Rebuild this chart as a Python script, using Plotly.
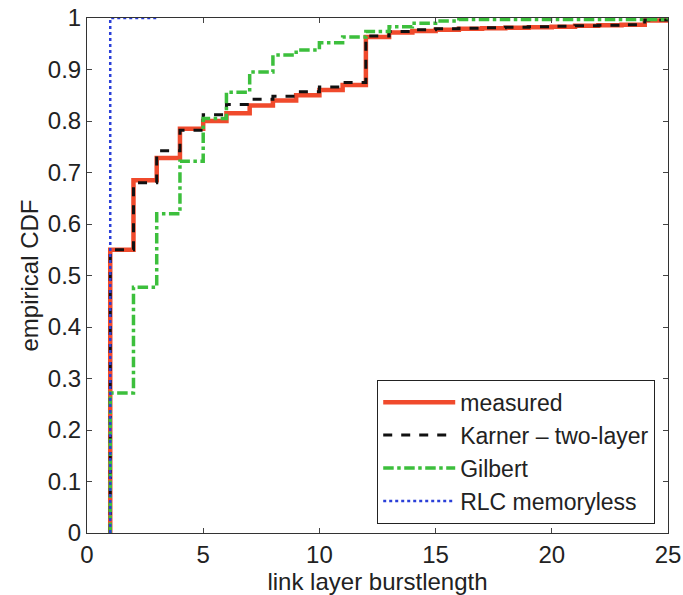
import plotly.graph_objects as go

# Burst lengths (x) and empirical CDF values
measured_x = [1, 1, 2, 3, 4, 5, 6, 7, 8, 9, 10, 11, 12, 13, 14, 15, 16, 17, 18, 19, 20, 21, 22, 23, 24, 25]
measured_y = [0, 0.55, 0.685, 0.728, 0.785, 0.800, 0.815, 0.830, 0.840, 0.850, 0.860, 0.870, 0.963, 0.972, 0.975, 0.977, 0.979, 0.980, 0.981, 0.982, 0.983, 0.985, 0.986, 0.987, 0.995, 1.0]

karner_x = [1, 1, 2, 3, 4, 5, 6, 7, 8, 9, 10, 11, 12, 13, 14, 15, 16, 17, 18, 19, 20, 21, 22, 23, 24, 25]
karner_y = [0, 0.55, 0.680, 0.742, 0.782, 0.812, 0.832, 0.842, 0.848, 0.857, 0.866, 0.875, 0.965, 0.974, 0.977, 0.979, 0.980, 0.981, 0.982, 0.983, 0.984, 0.985, 0.986, 0.987, 0.996, 1.0]

gilbert_x = [1, 1, 2, 3, 4, 5, 6, 7, 8, 9, 10, 11, 12, 13, 14, 15, 16, 25]
gilbert_y = [0, 0.272, 0.477, 0.62, 0.722, 0.805, 0.856, 0.895, 0.928, 0.938, 0.952, 0.963, 0.974, 0.983, 0.990, 0.994, 0.997, 1.0]

rlc_x = [1, 1, 3]
rlc_y = [0, 1.0, 1.0]

x_ticks = [0, 5, 10, 15, 20, 25]
y_ticks = [0, 0.1, 0.2, 0.3, 0.4, 0.5, 0.6, 0.7, 0.8, 0.9, 1]
y_ticktext = ["0", "0.1", "0.2", "0.3", "0.4", "0.5", "0.6", "0.7", "0.8", "0.9", "1"]

FONT = "Liberation Sans, Arial, sans-serif"

fig = go.Figure()
fig.add_trace(go.Scatter(x=measured_x, y=measured_y, mode="lines", line_shape="hv",
                         name="measured", line=dict(color="#f04a2c", width=4.5)))
fig.add_trace(go.Scatter(x=karner_x, y=karner_y, mode="lines", line_shape="hv",
                         name="Karner – two-layer", line=dict(color="#111111", width=3, dash="dash")))
fig.add_trace(go.Scatter(x=gilbert_x, y=gilbert_y, mode="lines", line_shape="hv",
                         name="Gilbert", line=dict(color="#3cbf3c", width=3.5, dash="dashdot")))
fig.add_trace(go.Scatter(x=rlc_x, y=rlc_y, mode="lines", line_shape="hv",
                         name="RLC memoryless", line=dict(color="#2a3fd8", width=2.5, dash="dot")))

fig.update_layout(
    width=683, height=595,
    margin=dict(l=87, r=15, t=18, b=62),
    paper_bgcolor="white", plot_bgcolor="white",
    font=dict(family=FONT, size=24, color="#222222"),
    showlegend=True,
    legend=dict(x=0.978, xanchor="right", y=0.018, yanchor="bottom",
                bgcolor="white", bordercolor="#222222", borderwidth=1,
                font=dict(size=23), itemwidth=72, tracegroupgap=0),
    xaxis=dict(range=[0, 25], tickvals=x_ticks, ticks="inside", ticklen=5,
               showline=True, linecolor="#333333", linewidth=1, mirror="ticks",
               showgrid=False, zeroline=False, automargin=False,
               title=dict(text="link layer burstlength", font=dict(size=24), standoff=0)),
    yaxis=dict(range=[0, 1], tickvals=y_ticks, ticktext=y_ticktext,
               ticks="inside", ticklen=5,
               showline=True, linecolor="#333333", linewidth=1, mirror="ticks",
               showgrid=False, zeroline=False, automargin=False,
               title=dict(text="empirical CDF", font=dict(size=24), standoff=2)),
)

fig.write_html("out.html")
